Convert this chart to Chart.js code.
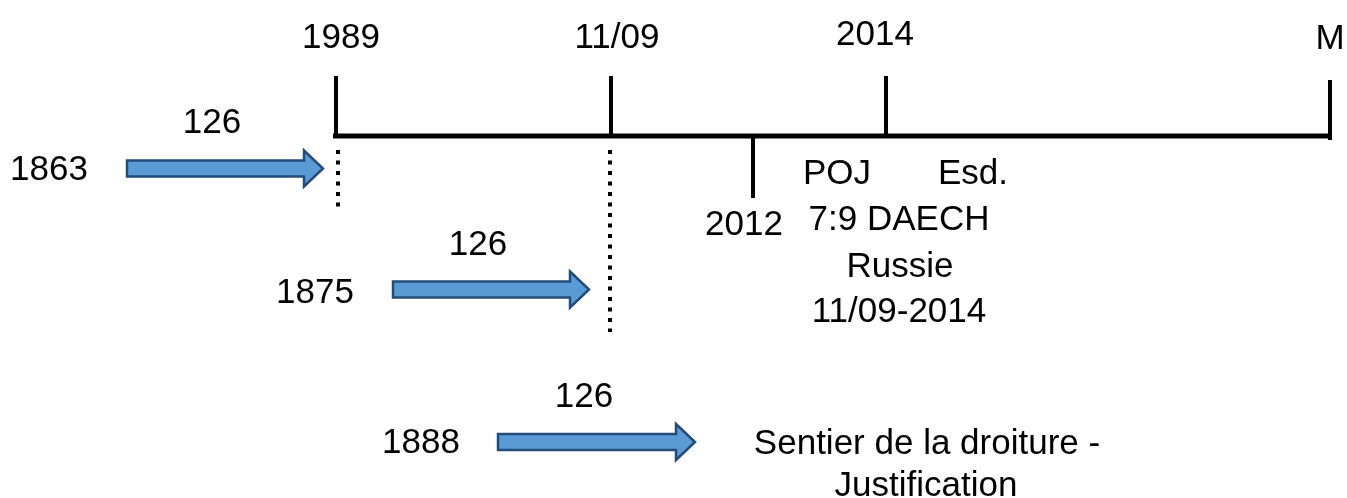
<!DOCTYPE html>
<html lang="fr">
<head>
  <meta charset="UTF-8" />
  <title>Chronologie 126</title>
  <script src="https://cdn.jsdelivr.net/npm/chart.js"></script>
  <style>
    html, body { margin: 0; padding: 0; background: #fff; }
    #wrap { width: 1347px; height: 498px; position: relative; }
  </style>
</head>
<body>
  <div id="wrap"><canvas id="timeline"></canvas></div>

  <script>
    // jalons sur l'axe principal
    const milestones = ['1989', '11/09', '2014', 'M'];
    const milestoneX = [336, 611, 886, 1330];
    const milestoneTop = [76, 76, 76, 80];
    const axisY = 136;
    const axisStart = 333;
    const axisEnd = 1332;

    // jalon sous l'axe
    const subMilestone = '2012';
    const subMilestoneX = 753;
    const subMilestoneBottom = 198;

    // cycles de 126 ans (fleches)
    const cycleStart = ['1863', '1875', '1888'];
    const cycleLength = ['126', '126', '126'];
    const arrowFrom = [127, 393, 498];
    const arrowTo = [323, 589, 695];
    const arrowY = [168.5, 289.5, 442];

    // pointilles vers l'axe
    const dottedX = [338, 610];
    const dottedTop = [150, 150];
    const dottedBottom = [208, 332];

    // textes libres
    const notes = ['POJ', 'Esd.', '7:9 DAECH', 'Russie', '11/09-2014', 'Sentier de la droiture -', 'Justification'];
    const noteX = [837, 973, 899, 900, 899, 927, 926];
    const noteY = [184, 184, 230, 277, 322, 454, 496];

    const FONT = '35px "Liberation Sans", Arial, sans-serif';

    // segments separes par des trous (null)
    function segments(list) {
      const out = [];
      list.forEach(s => {
        out.push({ x: s[0], y: s[1] }, { x: s[2], y: s[3] }, { x: null, y: null });
      });
      return out;
    }

    const ticks = milestoneX.map((x, i) => [x, milestoneTop[i], x, i === milestoneX.length - 1 ? axisY + 4 : axisY]);
    ticks.push([subMilestoneX, axisY, subMilestoneX, subMilestoneBottom]);
    const dots = dottedX.map((x, i) => [x, dottedTop[i], x, dottedBottom[i]]);

    const labelPlugin = {
      id: 'labels',
      afterDatasetsDraw(chart) {
        const { ctx, scales: { x, y } } = chart;
        const items = [];
        const milestoneLabelX = [341, 617, 875, 1330];
        const milestoneLabelY = [48, 48, 45, 49];
        milestones.forEach((t, i) => items.push([t, milestoneLabelX[i], milestoneLabelY[i]]));
        const startX = [49, 315, 421], startY = [180, 303, 453];
        const lenX = [212, 478, 584], lenY = [133, 255, 407];
        cycleStart.forEach((t, i) => items.push([t, startX[i], startY[i]]));
        cycleLength.forEach((t, i) => items.push([t, lenX[i], lenY[i]]));
        items.push([subMilestone, 744, 235]);
        notes.forEach((t, i) => items.push([t, noteX[i], noteY[i]]));

        ctx.save();
        ctx.font = FONT;
        ctx.fillStyle = '#000';
        ctx.textAlign = 'center';
        ctx.textBaseline = 'alphabetic';
        items.forEach(([t, vx, vy]) => ctx.fillText(t, x.getPixelForValue(vx), y.getPixelForValue(vy)));
        ctx.restore();
      }
    };

    const arrowPlugin = {
      id: 'arrows',
      afterDatasetsDraw(chart) {
        const { ctx, scales: { x, y } } = chart;
        ctx.save();
        ctx.fillStyle = '#5B9BD5';
        ctx.strokeStyle = '#244C78';
        ctx.lineWidth = 2.5;
        ctx.lineJoin = 'miter';
        arrowFrom.forEach((from, i) => {
          const x0 = x.getPixelForValue(from);
          const x1 = x.getPixelForValue(arrowTo[i]);
          const cy = y.getPixelForValue(arrowY[i]);
          const xh = x1 - 19;
          ctx.beginPath();
          ctx.moveTo(x0, cy - 8);
          ctx.lineTo(xh, cy - 8);
          ctx.lineTo(xh, cy - 18);
          ctx.lineTo(x1, cy);
          ctx.lineTo(xh, cy + 18);
          ctx.lineTo(xh, cy + 8);
          ctx.lineTo(x0, cy + 8);
          ctx.closePath();
          ctx.fill();
          ctx.stroke();
        });
        ctx.restore();
      }
    };

    new Chart(document.getElementById('timeline'), {
      type: 'scatter',
      data: {
        datasets: [
          {
            data: [{ x: axisStart, y: axisY }, { x: axisEnd, y: axisY }],
            showLine: true, borderColor: '#000', borderWidth: 5, pointRadius: 0, borderCapStyle: 'butt'
          },
          {
            data: segments(ticks),
            showLine: true, spanGaps: false, borderColor: '#000', borderWidth: 4, pointRadius: 0, borderCapStyle: 'butt'
          },
          {
            data: segments(dots),
            showLine: true, spanGaps: false, borderColor: '#000', borderWidth: 4, pointRadius: 0,
            borderCapStyle: 'butt', borderDash: [4, 6.5]
          }
        ]
      },
      options: {
        responsive: true,
        maintainAspectRatio: false,
        animation: false,
        events: [],
        layout: { padding: 0 },
        clip: false,
        scales: {
          x: { type: 'linear', min: 0, max: 1347, display: false },
          y: { type: 'linear', min: 0, max: 498, reverse: true, display: false }
        },
        plugins: { legend: { display: false }, tooltip: { enabled: false } }
      },
      plugins: [labelPlugin, arrowPlugin]
    });
  </script>
</body>
</html>
